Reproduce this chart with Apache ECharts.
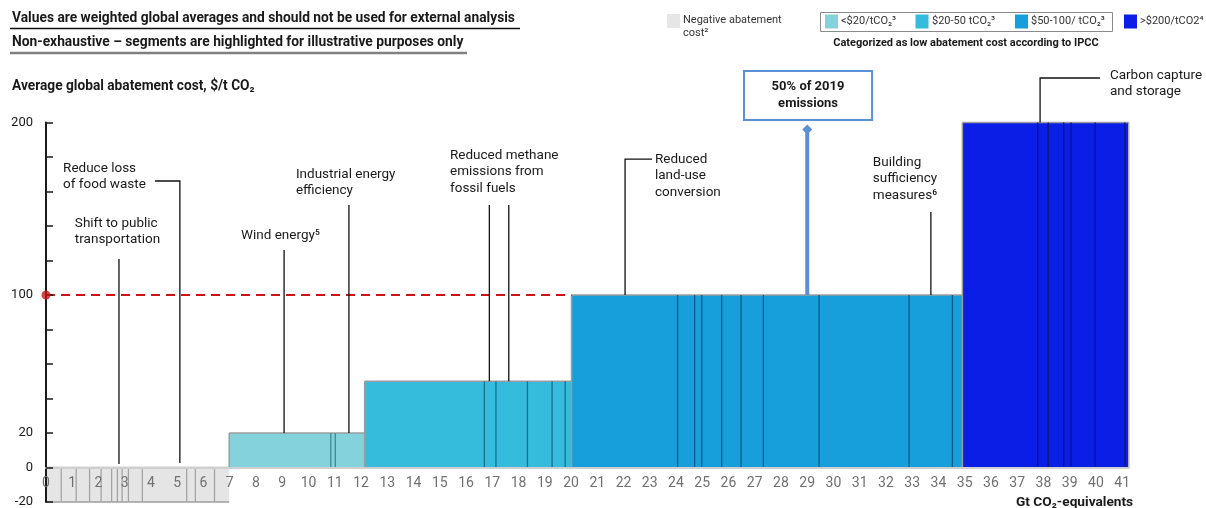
<!DOCTYPE html>
<html><head><meta charset="utf-8">
<script src="https://cdn.jsdelivr.net/npm/echarts@6.0.0/dist/echarts.min.js"></script>
<style>html,body{margin:0;padding:0;background:#fff}#c{width:1206px;height:508px}</style>
</head><body><div id="c"></div>
<script>
// ---------------- data ----------------
const blockNames = ['Negative abatement cost', '<$20/tCO2', '$20-50 tCO2', '$50-100/ tCO2', '>$200/tCO2'];
const blockCosts = [-20, 20, 50, 100, 200];
const negativeWidths   = [0.58, 0.57, 0.51, 0.44, 0.40, 0.22, 0.18, 0.24, 0.53, 1.69, 0.33, 0.73, 0.56];
const under20Widths    = [3.87, 0.17, 1.12];
const from20to50Widths = [4.56, 0.44, 1.20, 0.94, 0.50, 0.24];
const from50to100Widths= [4.04, 0.65, 0.27, 0.76, 0.74, 0.85, 2.12, 3.43, 1.65, 0.38];
const over200Widths    = [2.87, 0.40, 0.59, 0.28, 0.92, 1.13, 0.15];
const blockWidths = [negativeWidths, under20Widths, from20to50Widths, from50to100Widths, over200Widths];
const yLabelValues = [-20, 0, 20, 100, 200];
const referenceCost = 100;          // red dashed line
const referenceEnd = 20.02;         // Gt where dashed line ends
const halfEmissionsGt = 29.0;       // 50% of 2019 emissions
const annotationTexts = [
  'Reduce loss\nof food waste',
  'Shift to public\ntransportation',
  'Wind energy\u2075',
  'Industrial energy\nefficiency',
  'Reduced methane\nemissions from\nfossil fuels',
  'Reduced\nland-use\nconversion',
  'Building\nsufficiency\nmeasures\u2076',
  'Carbon capture\nand storage'
];
// anchors (Gt, $/t) of annotation leaders
const annotationLeaders = [
  [[4.15, 166.1], [5.10, 166.1], [5.10, 2.6]],
  [[2.78, 120.9], [2.78, 2.0]],
  [[9.07, 126.1], [9.07, 20]],
  [[11.54, 152.2], [11.54, 20]],
  [[16.89, 152.2], [16.89, 50], null, [17.63, 152.2], [17.63, 50]],
  [[23.09, 178.8], [22.06, 178.8], [22.06, 100]],
  [[33.71, 148.1], [33.71, 100]],
  [[40.15, 225.8], [37.87, 225.8], [37.87, 200]]
];
const annotationTextAt = [
  [0.65, 178.3], [1.10, 146.4], [7.43, 139.4], [9.52, 174.8],
  [15.39, 185.8], [23.2, 183.5], [31.5, 181.7], [40.53, 231.6]
];

// ---------------- styles ----------------
const blockFill = ['#e5e5e5', '#84d2dc', '#35bcdc', '#169fdb', '#0a1ee6'];
const blockDivider = ['#a3a3a3', '#3e8893', '#156f8e', '#0b5b86', '#061285'];
const FONT = 'Roboto';
const GRID = { left: 46, top: 122.5, width: 1082.8, height: 379.5 };
const Y_MIN = -20, Y_MAX = 200;

// build segments
const segments = [];
let pos = 0;
blockWidths.forEach((ws, b) => {
  ws.forEach((w, i) => {
    segments.push([pos, pos + w, blockCosts[b], b, i === 0 ? 1 : 0, 0]);
    pos += w;
  });
});
segments[segments.length - 1][5] = 1;
const xMax = pos;

function renderSegment(params, api) {
  const s = api.value(0), e = api.value(1), c = api.value(2), b = api.value(3);
  const first = api.value(4), last = api.value(5);
  const a = api.coord([s, 0]), z = api.coord([e, c]);
  const x0 = a[0], x1 = z[0], y0 = a[1], y1 = z[1];
  const top = Math.min(y0, y1), h = Math.abs(y1 - y0);
  const grey = '#9c9c9c';
  const ch = [
    { type: 'rect', shape: { x: x0, y: top, width: x1 - x0, height: h }, style: { fill: blockFill[b] } },
    { type: 'line', shape: { x1: x0, y1: y1, x2: x1, y2: y1 }, style: { stroke: grey, lineWidth: 1.5 } }
  ];
  if (c < 0) ch.push({ type: 'line', shape: { x1: x0, y1: y0, x2: x1, y2: y0 }, style: { stroke: grey, lineWidth: 1.5 } });
  ch.push({ type: 'line', shape: { x1: x0, y1: y0, x2: x0, y2: y1 },
    style: { stroke: first ? grey : blockDivider[b], lineWidth: first ? 1.5 : 1.3 } });
  if (last) ch.push({ type: 'line', shape: { x1: x1, y1: y0, x2: x1, y2: y1 }, style: { stroke: '#b8b8b8', lineWidth: 1.5 } });
  return { type: 'group', children: ch };
}

function renderAnnotation(params, api) {
  const i = params.dataIndex;
  const ch = [];
  let pts = [];
  const flush = () => { if (pts.length > 1) ch.push({ type: 'polyline', shape: { points: pts }, style: { stroke: '#111', lineWidth: 1.3, fill: null } }); pts = []; };
  annotationLeaders[i].forEach(p => { if (p === null) flush(); else pts.push(api.coord(p)); });
  flush();
  const t = api.coord(annotationTextAt[i]);
  ch.push({ type: 'text', x: t[0], y: t[1], style: {
    text: annotationTexts[i], fill: '#1a1a1a', fontSize: 13.5, fontFamily: FONT,
    lineHeight: i === 7 ? 15.5 : 16.5, textVerticalAlign: 'top', verticalAlign: 'top', textAlign: 'left', align: 'left' } });
  return { type: 'group', children: ch };
}

function renderHalfMarker(params, api) {
  const base = api.coord([halfEmissionsGt, referenceCost]);
  const tip = api.coord([halfEmissionsGt, 196]);
  const boxL = api.coord([26.59, 229.9]);
  const boxR = api.coord([31.47, 201.4]);
  const blue = '#5b8fd6';
  return { type: 'group', children: [
    { type: 'line', shape: { x1: base[0], y1: base[1], x2: tip[0], y2: tip[1] + 3 }, style: { stroke: blue, lineWidth: 4 } },
    { type: 'polygon', shape: { points: [[tip[0], tip[1] - 5], [tip[0] + 5, tip[1]], [tip[0], tip[1] + 5], [tip[0] - 5, tip[1]]] }, style: { fill: blue } },
    { type: 'rect', shape: { x: boxL[0], y: boxL[1], width: boxR[0] - boxL[0], height: boxR[1] - boxL[1] }, style: { fill: '#fff', stroke: blue, lineWidth: 2 } },
    { type: 'text', x: (boxL[0] + boxR[0]) / 2, y: (boxL[1] + boxR[1]) / 2, style: {
      text: '50% of 2019\nemissions', fill: '#1a1a1a', fontSize: 13, fontWeight: 'bold', fontFamily: FONT, lineHeight: 17,
      textAlign: 'center', align: 'center', textVerticalAlign: 'middle', verticalAlign: 'middle' } }
  ] };
}

function txt(x, y, text, size, opts) {
  opts = opts || {};
  return { type: 'text', x: x, y: y, scaleX: opts.scaleX || 1, z: 100, style: {
    text: text, x: 0, y: 0, fill: opts.fill || '#1a1a1a', fontSize: size, fontWeight: opts.bold ? 'bold' : 'normal', fontFamily: FONT,
    lineHeight: opts.lh || size + 2,
    textAlign: opts.align || 'left', align: opts.align || 'left',
    textVerticalAlign: opts.va || 'middle', verticalAlign: opts.va || 'middle' } };
}
function box(x, y, w, h, fill, stroke) {
  return { type: 'rect', z: 100, shape: { x: x, y: y, width: w, height: h }, style: { fill: fill || 'none', stroke: stroke || null, lineWidth: 1 } };
}
function hline(x1, x2, y, color, w) {
  return { type: 'line', z: 100, shape: { x1: x1, y1: y, x2: x2, y2: y }, style: { stroke: color, lineWidth: w } };
}

const chart = echarts.init(document.getElementById('c'), null, { renderer: 'canvas' });
chart.setOption({
  animation: false,
  backgroundColor: '#fff',
  textStyle: { fontFamily: FONT },
  grid: { left: GRID.left, top: GRID.top, width: GRID.width, height: GRID.height, containLabel: false, outerBoundsMode: 'none' },
  xAxis: {
    type: 'value', min: 0, max: xMax, interval: 1, z: 10,
    // place the axis on the zero line of the cost axis
    offset: -GRID.height * (0 - Y_MIN) / (Y_MAX - Y_MIN),
    axisLine: { show: true, onZero: false, lineStyle: { color: '#cfcfcf', width: 2 } },
    axisTick: { show: false }, splitLine: { show: false },
    axisLabel: { show: true, color: '#707070', fontSize: 14, margin: 9, showMaxLabel: false,
      formatter: v => (Math.abs(v - Math.round(v)) < 1e-6 ? String(Math.round(v)) : '') }
  },
  yAxis: {
    type: 'value', min: Y_MIN, max: Y_MAX, interval: 20, z: 10,
    axisLine: { show: true, onZero: false, lineStyle: { color: '#1a1a1a', width: 2 } },
    axisTick: { show: true, inside: true, length: 7, lineStyle: { color: '#1a1a1a', width: 1.5 } },
    splitLine: { show: false },
    axisLabel: { color: '#1a1a1a', fontSize: 13, margin: 13,
      formatter: v => (yLabelValues.indexOf(v) >= 0 ? String(v) : '') }
  },
  series: [
    { type: 'custom', name: 'segments', renderItem: renderSegment, data: segments, clip: false, z: 2 },
    { type: 'line', name: 'reference', data: [[0, referenceCost], [referenceEnd, referenceCost]], showSymbol: false, z: 4,
      lineStyle: { color: '#cc1414', width: 2, type: [9, 6] } },
    { type: 'scatter', name: 'refdot', data: [[0, referenceCost]], symbolSize: 9, itemStyle: { color: '#cc1414' }, z: 12 },
    { type: 'custom', name: 'annotations', renderItem: renderAnnotation, data: annotationTexts.map((t, i) => [annotationTextAt[i][0], annotationTextAt[i][1]]), clip: false, z: 5 },
    { type: 'custom', name: 'half', renderItem: renderHalfMarker, data: [[halfEmissionsGt, referenceCost]], clip: false, z: 6 }
  ],
  graphic: [
    txt(12, 18, 'Values are weighted global averages and should not be used for external analysis', 14, { bold: true, scaleX: 0.985 }),
    hline(10, 520, 28.5, '#111', 1.3),
    txt(12, 42, 'Non-exhaustive \u2013 segments are highlighted for illustrative purposes only', 14, { bold: true, scaleX: 0.985 }),
    hline(10, 467, 53, '#808080', 2.5),
    txt(12, 86, 'Average global abatement cost, $/t CO\u2082', 14, { bold: true, scaleX: 0.98 }),
    // legend
    box(667, 14, 13, 14, '#e6e6e6'),
    txt(683, 14, blockNames[0].replace(' cost', '\ncost\u00b2'), 11, { fill: '#333', va: 'top', lh: 13 }),
    box(820.5, 12.5, 292, 19, 'none', '#8a8a8a'),
    box(825, 14.5, 13, 14, blockFill[1]),
    txt(841, 21.5, '<$20/tCO\u2082\u00b3', 11, { fill: '#333' }),
    box(915.5, 14.5, 13, 14, blockFill[2]),
    txt(932, 21.5, '$20-50 tCO\u2082\u00b3', 11, { fill: '#333' }),
    box(1015, 14.5, 13, 14, blockFill[3]),
    txt(1031, 21.5, '$50-100/ tCO\u2082\u00b3', 11, { fill: '#333' }),
    box(1124, 14.5, 13, 14, blockFill[4]),
    txt(1140, 21.5, '>$200/tCO2\u2074', 11, { fill: '#333' }),
    txt(966, 43, 'Categorized as low abatement cost according to IPCC', 11, { bold: true, align: 'center' }),
    txt(1016, 503, 'Gt CO\u2082-equivalents', 13.7, { bold: true })
  ]
});
</script>
</body></html>
